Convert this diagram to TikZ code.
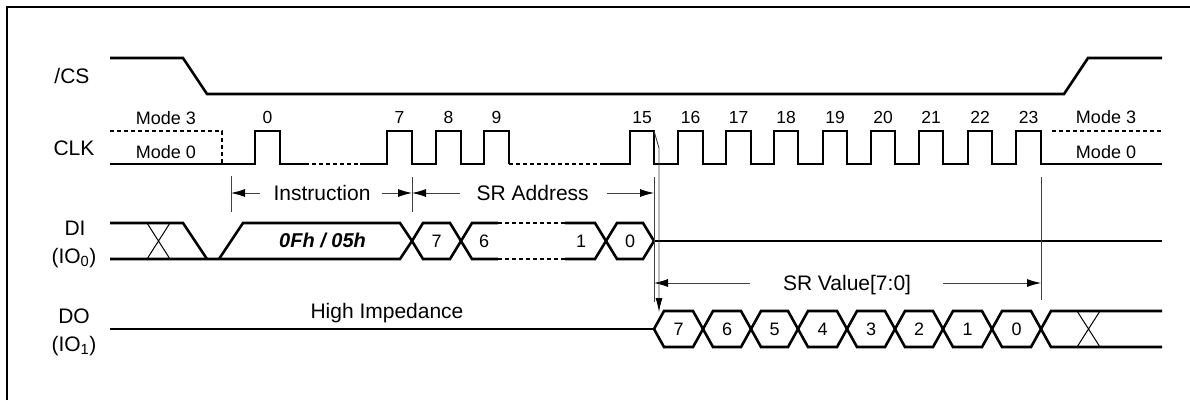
\documentclass[tikz,border=0pt]{standalone}
\usepackage{fontspec}
\setmainfont{Liberation Sans}
\usetikzlibrary{arrows.meta}
\begin{document}
\begin{tikzpicture}[x=1pt,y=-1pt,
  sig/.style={line width=2.6pt, line join=miter, line cap=butt},
  dots/.style={sig, dash pattern=on 4pt off 3pt},
  thinline/.style={line width=0.9pt, draw=black!75},
  xline/.style={line width=1pt},
  dimarrow/.style={line width=0.9pt, draw=black!75, -{Latex[length=14pt,width=8pt,color=black]}},
  lbl/.style={font=\fontsize{21}{24}\selectfont, anchor=base, inner sep=0pt},
  modelbl/.style={font=\fontsize{18}{20}\selectfont, anchor=base, inner sep=0pt},
  num/.style={font=\fontsize{17.5}{20}\selectfont, anchor=base, inner sep=0pt},
  hexnum/.style={font=\fontsize{18}{20}\selectfont, inner sep=0pt},
]
\useasboundingbox (0,0) rectangle (1190,400);
% frame
\draw[line width=2pt] (7,400) -- (7,7) -- (1190,7);

% signal names
\node[lbl] (cs) at (72,83) {/CS};
\node[lbl] (clk) at (74,155) {CLK};
\node[lbl] (di) at (75,235) {DI};
\node[lbl] (io0) at (74,263) {(IO\textsubscript{0})};
\node[lbl] (dolbl) at (74,323) {DO};
\node[lbl] (io1) at (74,351) {(IO\textsubscript{1})};

% /CS
\draw[sig] (110,58) -- (183,58) -- (207,94) -- (1064,94) -- (1088,58) -- (1162,58);

% CLK
\draw[dots] (110,131) -- (222,131) -- (222,164);
\draw[sig] (110,164) -- (255,164) -- (255,131) -- (280,131) -- (280,164) -- (305,164);
\draw[dots] (305,164) -- (360,164);
\draw[sig] (360,164) -- (387,164) -- (387,131) -- (412,131) -- (412,164)
  -- (436,164) -- (436,131) -- (461,131) -- (461,164)
  -- (484,164) -- (484,131) -- (509,131) -- (509,164);
\draw[dots] (509,164) -- (602,164);
\draw[sig] (602,164) foreach \r/\f in {630/654,678/703,726/751,774/798,823/847,871/895,919/943,968/992,1016/1041}
  { -- (\r,164) -- (\r,131) -- (\f,131) -- (\f,164) } -- (1162,164);
\draw[dots] (1052,131) -- (1162,131);

% clock numbers
\foreach \n/\x in {0/267.5,7/399.5,8/448.5,9/496.5,15/642,16/690.5,17/738.5,18/786,19/835,20/883,21/931,22/980,23/1028.5}
  \node[num] (n\n) at (\x,123) {\n};

% mode labels
\node[modelbl] (m3l) at (166,124) {Mode 3};
\node[modelbl] (m0l) at (166,158) {Mode 0};
\node[modelbl] (m3r) at (1106,123) {Mode 3};
\node[modelbl] (m0r) at (1106,158) {Mode 0};

% DI
\draw[sig] (110,223) -- (183,223) -- (207,259);
\draw[sig] (110,259) -- (400,259) -- (412,241);
\draw[xline] (147,223) -- (170,259) (147,259) -- (170,223);
\draw[sig] (219,259) -- (243,223) -- (400,223) -- (412,241);
\draw[sig] (412,241) -- (423,223) -- (450,223) -- (461,241) -- (450,259) -- (423,259) -- cycle;
\draw[sig] (498,223) -- (472,223) -- (461,241) -- (472,259) -- (498,259);
\draw[dots] (498,223) -- (565,223) (498,259) -- (565,259);
\draw[sig] (565,223) -- (595,223) -- (606,241) -- (595,259) -- (565,259);
\draw[sig] (606,241) -- (617,223) -- (643,223) -- (654,241) -- (643,259) -- (617,259) -- cycle;
\draw[sig] (654,241) -- (1162,241);
\node[font=\fontsize{20}{22}\selectfont\bfseries\itshape, anchor=base, inner sep=0pt] (opc) at (322.5,247) {0Fh / 05h};
\node[hexnum] (d7) at (436.5,241) {7};
\node[hexnum] (d6) at (484,241) {6};
\node[hexnum] (d1) at (581,241) {1};
\node[hexnum] (d0) at (630,241) {0};

% DO
\draw[sig] (110,329) -- (654,329);
\foreach \a/\b/\v in {654/703/7,703/751/6,751/798/5,798/847/4,847/895/3,895/943/2,943/992/1,992/1041/0}{
  \draw[sig] (\a,329) -- (\a+10,311) -- (\b-10,311) -- (\b,329) -- (\b-10,347) -- (\a+10,347) -- cycle;
  \node[hexnum] (q\v) at ({(\a+\b)/2},329) {\v};
}
\draw[sig] (1162,311) -- (1051,311) -- (1041,329) -- (1051,347) -- (1162,347);
\draw[xline] (1077,311) -- (1100,347) (1077,347) -- (1100,311);
\node[lbl] (hiz) at (387,318) {High Impedance};

% dimension ticks
\coordinate (t1a) at (231,176); \coordinate (t1b) at (231,212);
\coordinate (t2a) at (412,177); \coordinate (t2b) at (412,212);
\coordinate (t3a) at (654,177); \coordinate (t3b) at (654,302);
\coordinate (t4a) at (1041,177); \coordinate (t4b) at (1041,300);
\draw[thinline] (t1a) -- (t1b);
\draw[thinline] (t2a) -- (t2b);
\draw[thinline] (t3a) -- (t3b);
\draw[thinline] (t4a) -- (t4b);

\node[lbl] (instr) at (322,200) {Instruction};
\node[lbl] (sraddr) at (532.7,200) {SR Address};
\node[lbl] (srval) at (847,290) {SR Value[7:0]};

\draw[dimarrow] (260,193) -- (231,193);
\draw[dimarrow] (382,193) -- (412,193);
\draw[dimarrow] (460,193) -- (412,193);
\draw[dimarrow] (607,193) -- (654,193);
\draw[dimarrow] (750,283) -- (654,283);
\draw[dimarrow] (943,283) -- (1041,283);

% output valid arrow from CLK 15 falling edge
\draw[line width=0.9pt, draw=black!75, -{Latex[length=14pt,width=7pt,color=black]}] (654,131) -- (659,148) -- (659,312);
\end{tikzpicture}
\end{document}
